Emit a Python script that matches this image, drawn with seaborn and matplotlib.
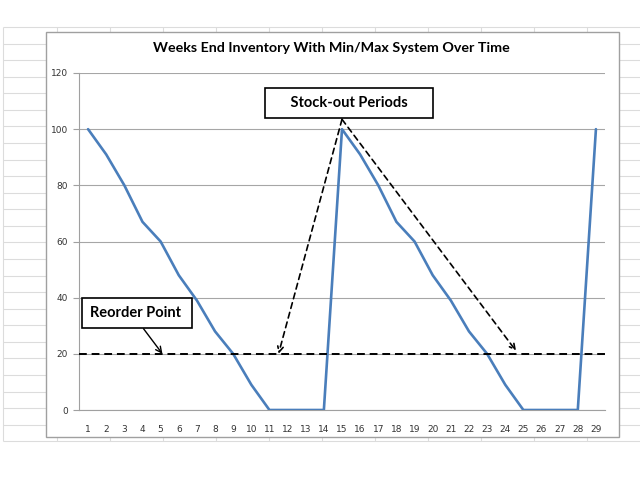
"""
Weeks end inventory with a min/max system, Excel-style line chart
"""
import numpy as np
import pandas as pd
import matplotlib
matplotlib.use('Agg')
import matplotlib.pyplot as plt
from matplotlib.patches import Rectangle
import seaborn as sns

# Data
weeks = list(range(1, 30))
inventory = [100, 91, 80, 67, 60, 48, 39, 28, 20, 9, 0, 0, 0, 0,
             100, 91, 80, 67, 60, 48, 39, 28, 20, 9, 0, 0, 0, 0, 100]
reorder_point = 20
y_ticks = [0, 20, 40, 60, 80, 100, 120]

title = 'Weeks End Inventory With Min/Max System Over Time'
label_family = ['Liberation Sans Narrow', 'Lato', 'DejaVu Sans']

df = pd.DataFrame({'week': weeks, 'inventory': inventory})

sns.set_style('white')
plt.rcParams['font.family'] = ['DejaVu Sans']
plt.rcParams['text.color'] = 'black'

fig = plt.figure(figsize=(6.4, 4.8), dpi=100)

# Spreadsheet cells behind the chart (pixel coordinates)
bg = fig.add_axes([0, 0, 1, 1])
bg.set_xlim(0, 640)
bg.set_ylim(480, 0)
bg.axis('off')
row_y = np.arange(27, 442, 16.57)
bg.hlines(row_y, 3, 640, color='#dcdcdc', linewidth=0.8)
bg.vlines([3] + list(np.arange(57, 640, 53)), 27, 441, color='#dcdcdc', linewidth=0.8)
bg.add_patch(Rectangle((46, 32), 573, 405, facecolor='white',
                       edgecolor='#a0a0a0', linewidth=1.0, zorder=3))

fig.text(0.518, 0.9, title, ha='center', va='center', fontsize=10.3,
         fontweight='bold', family=label_family, color='black')

ax = fig.add_axes([79 / 640, 1 - 410 / 480, 526 / 640, 337 / 480])
ax.set_facecolor('none')

sns.lineplot(data=df, x='week', y='inventory', ax=ax, color='#4a7ebb',
             linewidth=1.9, zorder=3)
ax.axhline(reorder_point, color='black', linestyle=(0, (4, 2.5)),
           linewidth=1.4, zorder=4)

ax.set_xlim(0.5, 29.5)
ax.set_ylim(0, 120)
ax.set_yticks(y_ticks)
ax.set_xticks(weeks)
ax.set_xticks(np.arange(0.5, 30, 1), minor=True)
ax.grid(axis='y', color='#a6a6a6', linewidth=0.8)
ax.set_axisbelow(True)
ax.tick_params(axis='x', which='major', length=0, pad=11, labelsize=6.5,
               labelcolor='#333333')
ax.tick_params(axis='x', which='minor', length=4, color='#a0a0a0', direction='out')
ax.tick_params(axis='y', length=4, color='#a0a0a0', pad=4, labelsize=6.5,
               labelcolor='#333333', left=True)
ax.set_xlabel('')
ax.set_ylabel('')
for side in ['top', 'right']:
    ax.spines[side].set_visible(False)
for side in ['left', 'bottom']:
    ax.spines[side].set_color('#a0a0a0')
    ax.spines[side].set_linewidth(0.8)

# Call-out boxes and arrows
box = dict(boxstyle='square,pad=0.55', facecolor='white', edgecolor='black', linewidth=1.2)
ax.annotate('Reorder Point ', xy=(5.1, 20), xytext=(3.7, 34.5),
            ha='center', va='center', fontsize=10.5, fontweight='bold',
            family=label_family, bbox=box, color='black',
            arrowprops=dict(arrowstyle='->', color='black', linewidth=1.0,
                            shrinkA=0, shrinkB=0, relpos=(0.5, 0)), zorder=5)

ax.text(15.4, 109.2, '     Stock-out Periods     ', ha='center', va='center',
        fontsize=10.5, fontweight='bold', family=label_family, bbox=box,
        color='black', zorder=5)
for target in [(11.5, 20), (24.6, 21)]:
    ax.annotate('', xy=target, xytext=(15.0, 103.5),
                arrowprops=dict(arrowstyle='->', color='black', linewidth=1.2,
                                linestyle=(0, (3.5, 2.5)), shrinkA=0, shrinkB=0),
                zorder=5)

fig.savefig('out.png', dpi=100)
